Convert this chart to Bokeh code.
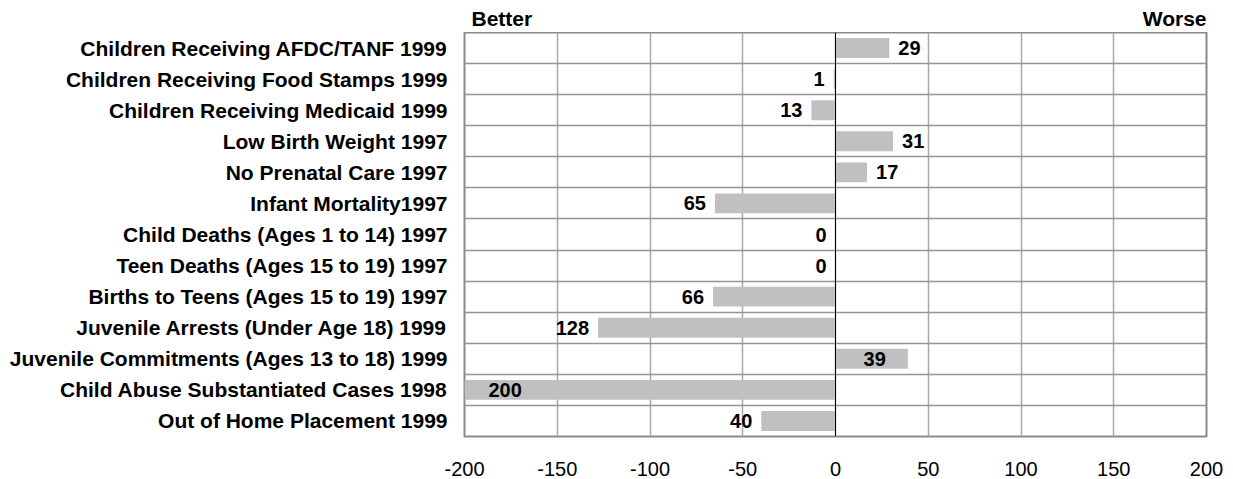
from bokeh.plotting import figure
from bokeh.layouts import column
from bokeh.models import Range1d, FixedTicker, Span, ColumnDataSource
from bokeh.core.properties import value
from bokeh.embed import file_html
from bokeh.resources import INLINE

# ---------------- data ----------------
categories = [
    "Children Receiving AFDC/TANF 1999",
    "Children Receiving Food Stamps 1999",
    "Children Receiving Medicaid 1999",
    "Low Birth Weight 1997",
    "No Prenatal Care 1997",
    "Infant Mortality1997",
    "Child Deaths (Ages 1 to 14) 1997",
    "Teen Deaths (Ages 15 to 19) 1997",
    "Births to Teens (Ages 15 to 19) 1997",
    "Juvenile Arrests (Under Age 18) 1999",
    "Juvenile Commitments (Ages 13 to 18) 1999",
    "Child Abuse Substantiated Cases 1998",
    "Out of Home Placement 1999",
]
values = [29, -1, -13, 31, 17, -65, 0, 0, -66, -128, 39, -200, -40]
x_ticks = [-200, -150, -100, -50, 0, 50, 100, 150, 200]
x_tick_labels = ["-200", "-150", "-100", "-50", "0", "50", "100", "150", "200"]
left_note = "Better"
right_note = "Worse"

# label placement (style, not data)
label_place = ["end"] * len(values)
label_place[10] = "center"
label_place[11] = "base"

FONT = "Liberation Sans"
n = len(categories)
rows = list(range(n))
W = 1233
L, R = 464, 27
TOP_H = 32

xr = Range1d(-200, 200)

# ---------- top strip with Better / Worse ----------
top = figure(width=W, height=TOP_H, output_backend="svg", toolbar_location=None,
             title=None, x_axis_location=None, y_axis_location=None,
             x_range=xr, y_range=Range1d(0, 1),
             min_border_left=L, min_border_right=R, min_border_top=0, min_border_bottom=0,
             min_border=0,
             background_fill_color="white", border_fill_color="white")
top.grid.visible = False
top.outline_line_color = None
note_y = (TOP_H - 18) / TOP_H
top.text(x=[-200], y=[note_y], text=[left_note], text_align="left",
         text_baseline="middle", x_offset=7, text_font=value(FONT),
         text_font_style="bold", text_font_size="21px", text_color="black")
top.text(x=[200], y=[note_y], text=[right_note], text_align="right",
         text_baseline="middle", x_offset=0, text_font=value(FONT),
         text_font_style="bold", text_font_size="21px", text_color="black")

# ---------- main chart ----------
p = figure(width=W, height=479 - TOP_H, output_backend="svg", toolbar_location=None,
           title=None,
           x_range=xr, y_range=Range1d(n - 0.5, -0.5),
           min_border_left=L, min_border_right=R, min_border_top=0, min_border_bottom=43,
           background_fill_color="white", border_fill_color="white")

p.outline_line_color = "#8a8a8a"
p.outline_line_width = 2

p.xgrid.ticker = FixedTicker(ticks=x_ticks)
p.xgrid.grid_line_color = "#a8a8a8"
p.xgrid.grid_line_width = 1.5
p.ygrid.ticker = FixedTicker(ticks=[r + 0.5 for r in rows[:-1]])
p.ygrid.grid_line_color = "#959595"
p.ygrid.grid_line_width = 1.5

src = ColumnDataSource(dict(y=rows, right=values, left=[0] * n))
p.hbar(y="y", left="left", right="right", height=0.64, source=src,
       fill_color="#c0c0c0", line_color=None)

p.add_layout(Span(location=0, dimension="height", line_color="black", line_width=1))

groups = {"pos": dict(x=[], y=[], t=[]), "neg": dict(x=[], y=[], t=[]),
          "center": dict(x=[], y=[], t=[]), "base": dict(x=[], y=[], t=[])}
for r, v, mode in zip(rows, values, label_place):
    if mode == "center":
        g, xv = "center", v / 2
    elif mode == "base":
        g, xv = "base", v
    elif v > 0:
        g, xv = "pos", v
    else:
        g, xv = "neg", v
    groups[g]["x"].append(xv)
    groups[g]["y"].append(r)
    groups[g]["t"].append(str(abs(v)))

cfg = {"pos": ("left", 9), "neg": ("right", -9), "center": ("center", 3), "base": ("left", 24)}
for g, d in groups.items():
    if not d["x"]:
        continue
    align, off = cfg[g]
    p.text(x=d["x"], y=d["y"], text=d["t"], text_align=align, text_baseline="middle",
           x_offset=off, text_font=value(FONT), text_font_style="bold",
           text_font_size="20px", text_color="black")

p.xaxis.ticker = FixedTicker(ticks=x_ticks)
p.xaxis.major_label_overrides = {t: s for t, s in zip(x_ticks, x_tick_labels)}
p.xaxis.axis_line_color = None
p.xaxis.major_tick_line_color = None
p.xaxis.minor_tick_line_color = None
p.xaxis.major_tick_out = 0
p.xaxis.minor_tick_out = 0
p.xaxis.major_label_text_font = FONT
p.xaxis.major_label_text_font_size = "20px"
p.xaxis.major_label_text_color = "black"
p.xaxis.major_label_standoff = 25
p.xaxis.major_label_text_line_height = 0.65

p.yaxis.ticker = FixedTicker(ticks=rows)
p.yaxis.major_label_overrides = {r: c for r, c in zip(rows, categories)}
p.yaxis.axis_line_color = None
p.yaxis.major_tick_line_color = None
p.yaxis.minor_tick_line_color = None
p.yaxis.major_tick_out = 0
p.yaxis.minor_tick_out = 0
p.yaxis.major_label_text_font = FONT
p.yaxis.major_label_text_font_style = "bold"
p.yaxis.major_label_text_font_size = "21px"
p.yaxis.major_label_text_color = "black"
p.yaxis.major_label_standoff = 17

layout = column(top, p, spacing=0)
open("out.html", "w").write(file_html(layout, INLINE))
